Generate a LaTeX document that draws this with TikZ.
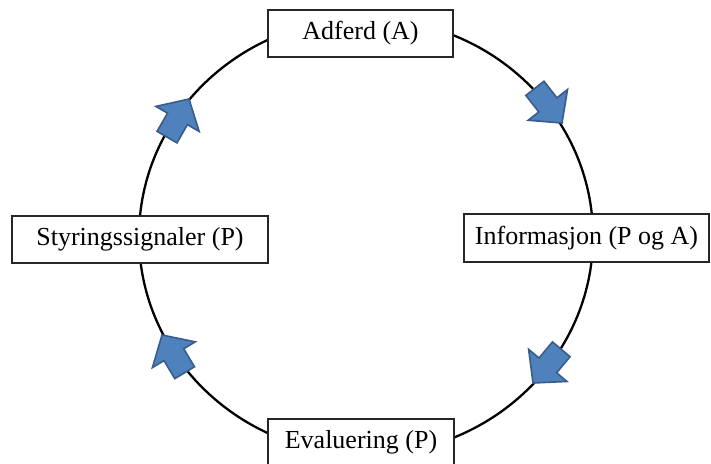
\documentclass[tikz,border=0pt]{standalone}
\usepackage{fontspec}
\setmainfont{Liberation Serif}
\definecolor{arrowblue}{HTML}{4F81BD}
\definecolor{arrowedge}{HTML}{385D8A}
\newcommand{\bluearrow}[2]{%
  \begin{scope}[shift={#1}, rotate=#2]
    \draw[blockarrow] (0,0) -- (-23,25) -- (-23,11.5) -- (-44,11.5) -- (-44,-11.5) -- (-23,-11.5) -- (-23,-25) -- cycle;
  \end{scope}}
\begin{document}
\begin{tikzpicture}[x=1pt,y=-1pt,
  box/.style={draw=black!85, line width=1.3pt, fill=white, inner sep=0pt,
    font=\fontsize{26}{31}\selectfont, text height=18pt, text depth=5.5pt},
  blockarrow/.style={fill=arrowblue, draw=arrowedge, line width=1.6pt, line join=miter}]
\useasboundingbox (0,0) rectangle (711,463);
\clip (0,0) rectangle (711,463);
\fill[white] (0,0) rectangle (711,463);
\draw[line width=2.3pt] (366,236.5) ellipse [x radius=227, y radius=218];
\node[box, minimum width=185pt, minimum height=47pt] (adferd) at (360.5,33.5) {Adferd (A)};
\node[box, minimum width=256pt, minimum height=47pt] (styring) at (140,239.5) {Styringssignaler (P)};
\node[box, minimum width=245pt, minimum height=48pt] (info) at (586.5,238) {Informasjon (P og A)};
\node[box, minimum width=186pt, minimum height=47pt] (eval) at (361,442.5) {Evaluering (P)};
\bluearrow{(562,123)}{-52}
\bluearrow{(533,383)}{-130}
\bluearrow{(189,99)}{60}
\bluearrow{(162,335)}{121}
\end{tikzpicture}
\end{document}
